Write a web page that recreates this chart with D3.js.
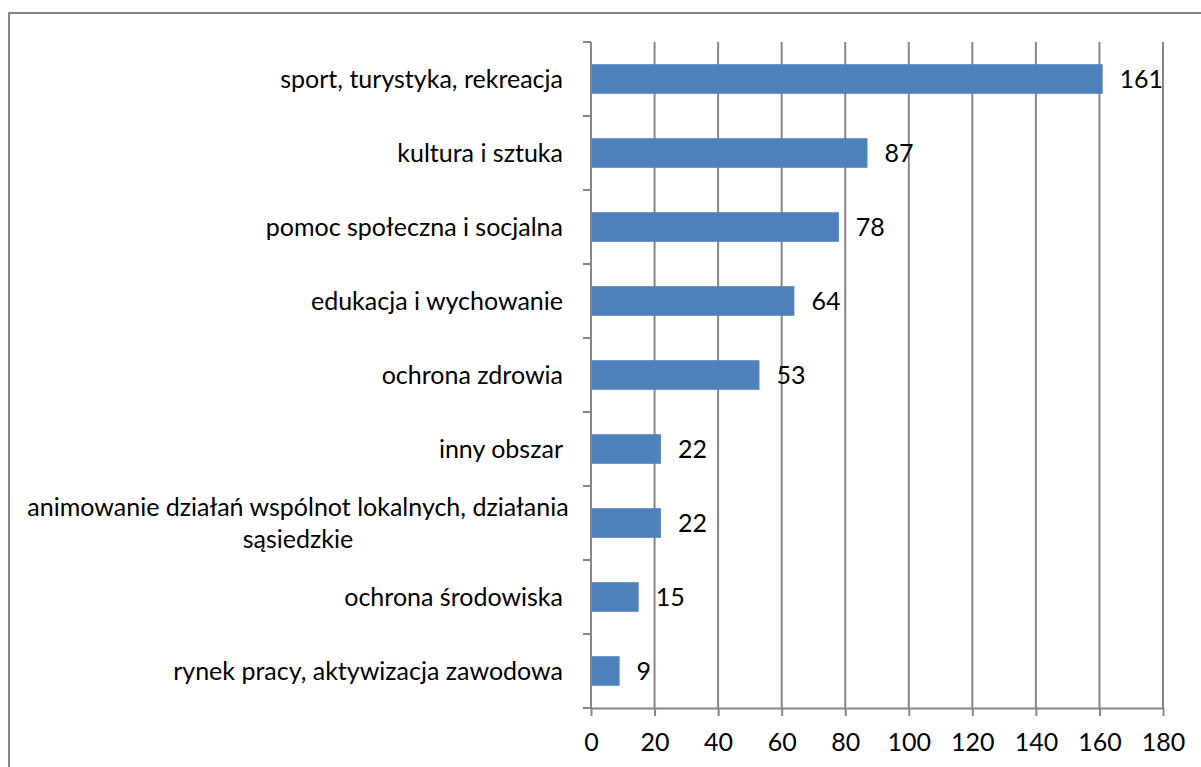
<!DOCTYPE html>
<html>
<head>
<meta charset="utf-8">
<script src="https://cdn.jsdelivr.net/npm/d3@7"></script>
<style>
  body { margin: 0; background: #fff; }
  svg text { font-family: Lato, "Open Sans", sans-serif; fill: #000; }
</style>
</head>
<body>
<script>
// categories, top to bottom
var categories = [
    "sport, turystyka, rekreacja",
    "kultura i sztuka",
    "pomoc społeczna i socjalna",
    "edukacja i wychowanie",
    "ochrona zdrowia",
    "inny obszar",
    "animowanie działań wspólnot lokalnych, działania sąsiedzkie",
    "ochrona środowiska",
    "rynek pracy, aktywizacja zawodowa"
];
var values = [161, 87, 78, 64, 53, 22, 22, 15, 9];
var xTicks = [0, 20, 40, 60, 80, 100, 120, 140, 160, 180];

var w = 1201, h = 767;
var plotLeft = 591, plotRight = 1163, plotTop = 42, plotBottom = 708;
var fontSize = "25px";

var svg = d3.select("body").append("svg")
    .attr("width", w)
    .attr("height", h);

// outer border (runs off the right and bottom edge)
svg.append("rect")
    .attr("x", 9).attr("y", 13)
    .attr("width", w + 20).attr("height", h + 20)
    .attr("fill", "none")
    .attr("stroke", "#868686")
    .attr("stroke-width", 2);

var x = d3.scaleLinear().domain([0, 180]).range([plotLeft, plotRight]);
var y = d3.scaleBand().domain(categories).range([plotTop, plotBottom]).paddingInner(0.6).paddingOuter(0.3);

// gridlines
svg.selectAll("line.grid")
    .data(xTicks.slice(1))
    .enter()
    .append("line")
    .attr("class", "grid")
    .attr("x1", function(d) { return x(d); })
    .attr("x2", function(d) { return x(d); })
    .attr("y1", plotTop)
    .attr("y2", plotBottom)
    .attr("stroke", "#868686")
    .attr("stroke-width", 2);

// bars
svg.selectAll("rect.bar")
    .data(values)
    .enter()
    .append("rect")
    .attr("class", "bar")
    .attr("x", x(0))
    .attr("y", function(d, i) { return y(categories[i]); })
    .attr("width", function(d) { return x(d) - x(0); })
    .attr("height", y.bandwidth())
    .attr("fill", "#4f81bd");

// value labels
svg.selectAll("text.val")
    .data(values)
    .enter()
    .append("text")
    .attr("class", "val")
    .attr("x", function(d) { return x(d) + 17; })
    .attr("y", function(d, i) { return y(categories[i]) + y.bandwidth() / 2; })
    .attr("dy", "0.35em")
    .style("font-size", fontSize)
    .text(function(d) { return d; });

// y axis line + ticks at category boundaries
var step = (plotBottom - plotTop) / categories.length;
svg.append("line")
    .attr("x1", plotLeft).attr("x2", plotLeft)
    .attr("y1", plotTop).attr("y2", plotBottom)
    .attr("stroke", "#868686").attr("stroke-width", 2);
d3.range(categories.length + 1).forEach(function(i) {
    svg.append("line")
        .attr("x1", plotLeft - 8).attr("x2", plotLeft)
        .attr("y1", plotTop + i * step).attr("y2", plotTop + i * step)
        .attr("stroke", "#868686").attr("stroke-width", 2);
});

// x axis
var xAxis = d3.axisBottom(x).tickValues(xTicks).tickSize(8).tickPadding(17).tickSizeOuter(0);
var gx = svg.append("g")
    .attr("transform", "translate(0," + plotBottom + ")")
    .call(xAxis);
gx.select(".domain").attr("stroke", "#868686").attr("stroke-width", 2);
gx.selectAll(".tick line").attr("stroke", "#868686").attr("stroke-width", 2);
gx.selectAll(".tick text")
    .style("font-size", fontSize)
    .style("font-family", "Lato, 'Open Sans', sans-serif")
    .attr("fill", "#000");

// category labels
categories.forEach(function(c, i) {
    var cy = y(c) + y.bandwidth() / 2;
    if (c.length > 45) {
        var t = svg.append("text")
            .attr("x", 298)
            .attr("y", cy)
            .attr("text-anchor", "middle")
            .style("font-size", fontSize);
        t.append("tspan").attr("x", 298).attr("y", cy - 16).attr("dy", "0.35em").text("animowanie działań wspólnot lokalnych, działania");
        t.append("tspan").attr("x", 298).attr("y", cy + 16).attr("dy", "0.35em").text("sąsiedzkie");
    } else {
        svg.append("text")
            .attr("x", 563)
            .attr("y", cy)
            .attr("dy", "0.35em")
            .attr("text-anchor", "end")
            .style("font-size", fontSize)
            .text(c);
    }
});
</script>
</body>
</html>
